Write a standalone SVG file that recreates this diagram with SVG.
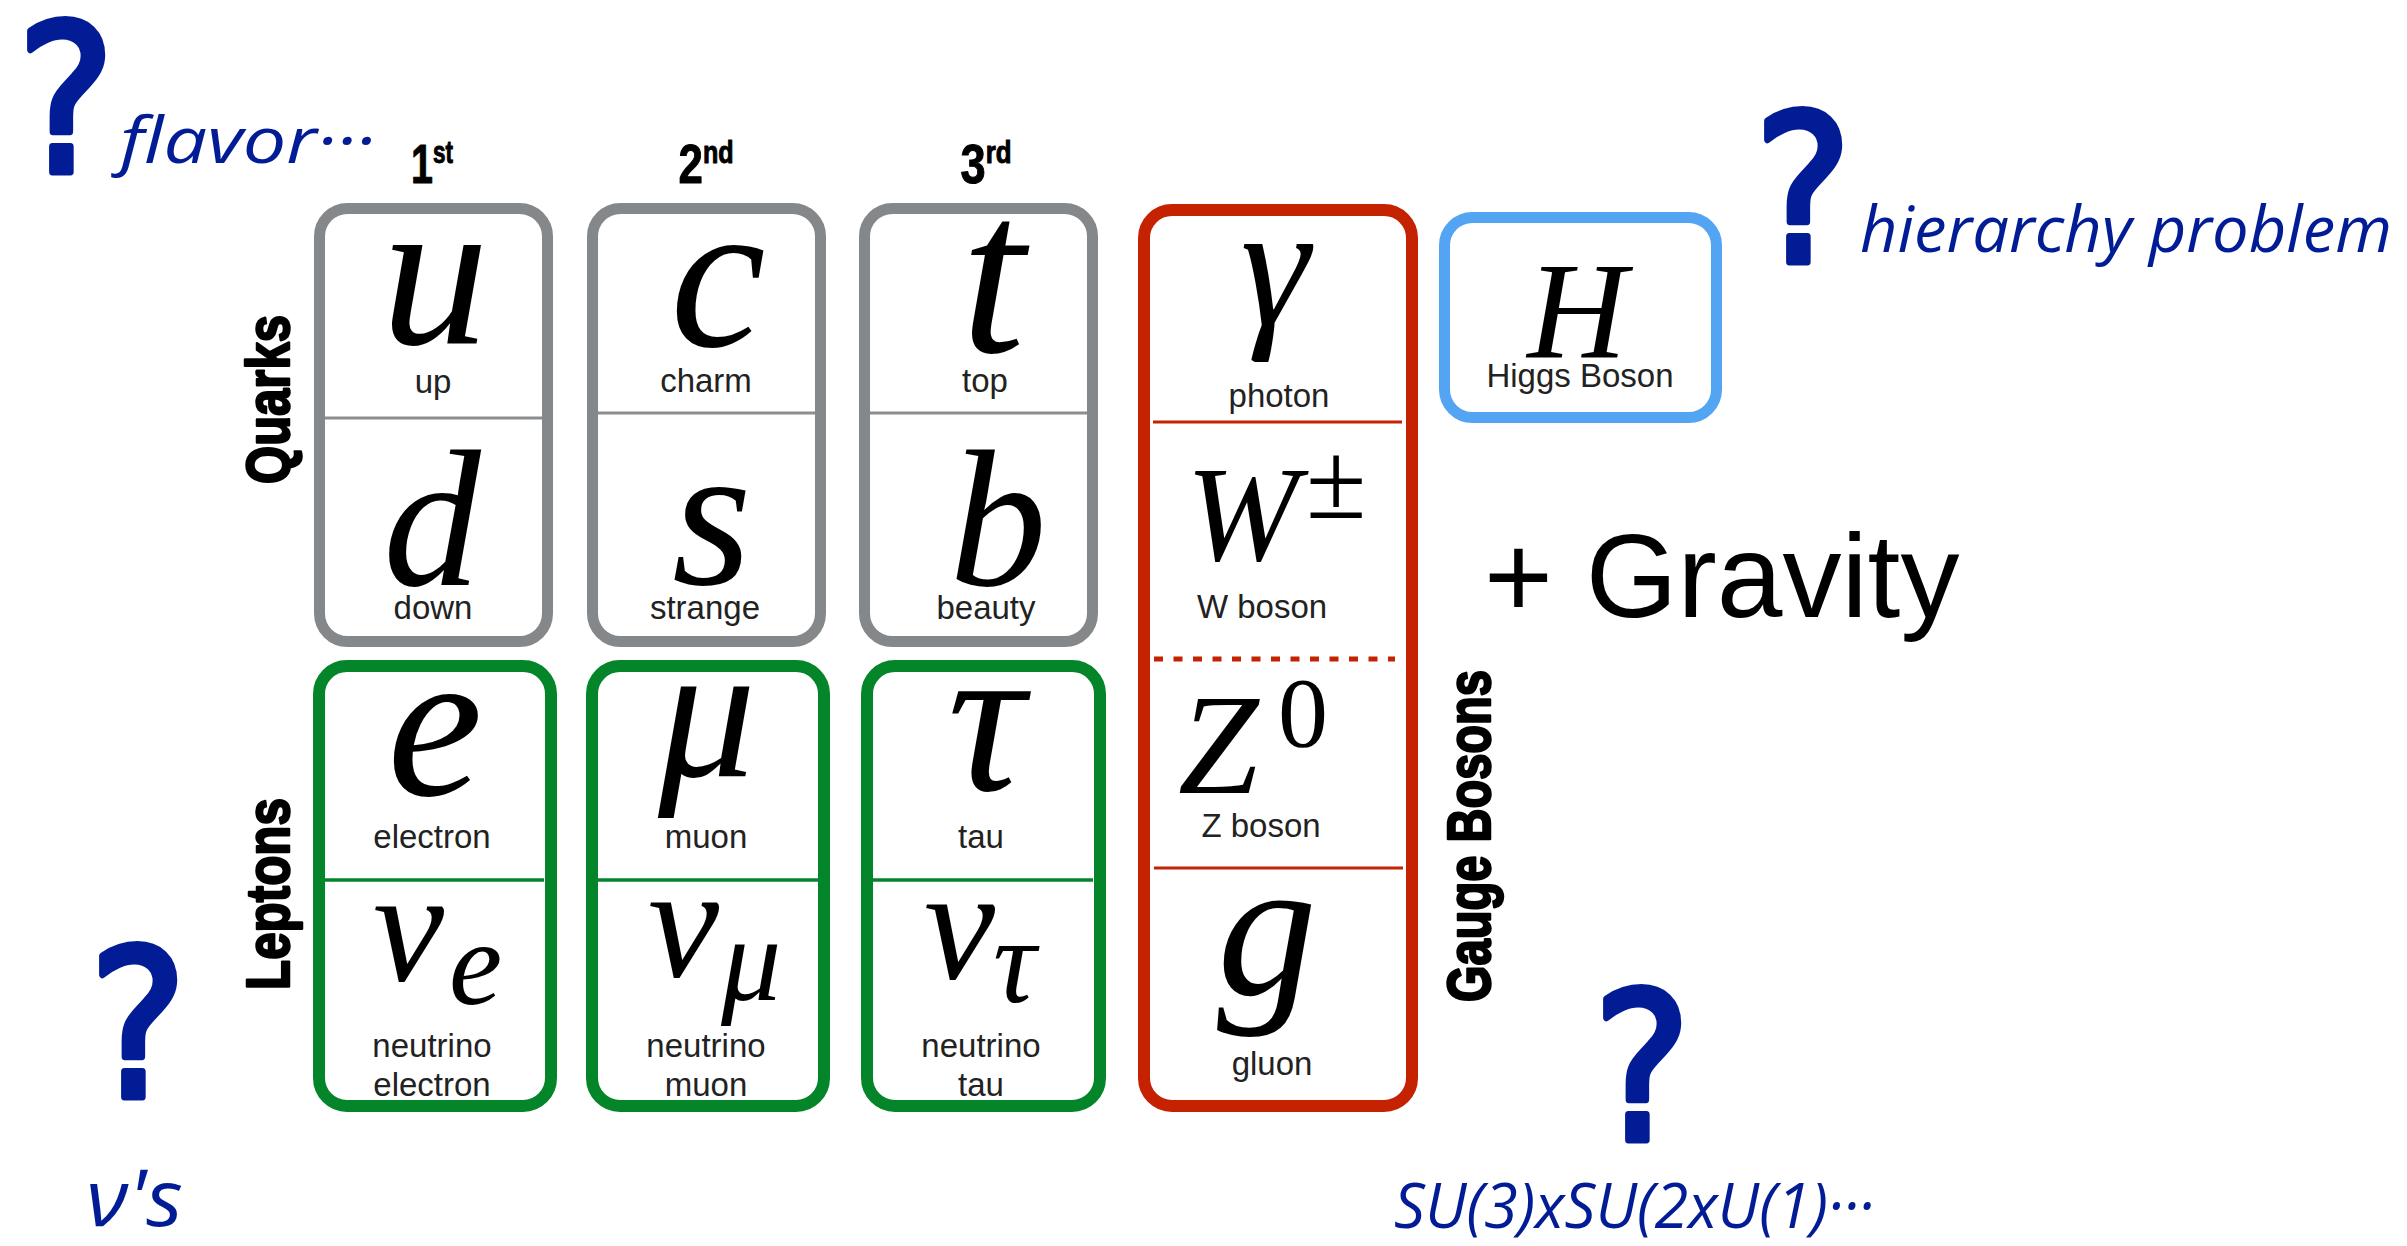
<svg xmlns="http://www.w3.org/2000/svg" width="2407" height="1246" viewBox="0 0 2407 1246">
<style>
.gray{fill:none;stroke:#84888b;stroke-width:11}
.gdiv{stroke:#8a8e91;stroke-width:3}
.green{fill:none;stroke:#05852a;stroke-width:12}
.grdiv{stroke:#05852a;stroke-width:3.5}
.red{fill:none;stroke:#c42200;stroke-width:12}
.rdiv{stroke:#c42200;stroke-width:3}
.blue{fill:none;stroke:#54a4f4;stroke-width:11}
.sym{font-family:"Liberation Serif",serif;font-style:italic;fill:#000}
.rom{font-family:"Liberation Serif",serif;fill:#000}
.lbl{font-family:"Liberation Sans",sans-serif;font-size:33px;fill:#222;text-anchor:middle}
.cat{font-family:"Liberation Sans Narrow","Liberation Sans",sans-serif;font-weight:bold;fill:#000;stroke:#000;stroke-width:2.5;stroke-linejoin:round}
.gen{font-family:"Liberation Sans Narrow","Liberation Sans",sans-serif;font-weight:bold;fill:#000;stroke:#000;stroke-width:1;stroke-linejoin:round;text-anchor:middle}
.hand{font-family:"Open Sans",sans-serif;font-style:italic;fill:#021c96}
.q{font-family:"DejaVu Sans",sans-serif;fill:#021c96;stroke:#021c96;stroke-width:7;stroke-linejoin:round;text-anchor:middle;font-size:205px}
</style>
<rect width="2407" height="1246" fill="#fff"/>

<g id="generation-labels" class="gen">
<text x="432" y="183" font-size="56" textLength="42" lengthAdjust="spacingAndGlyphs">1<tspan font-size="32" dy="-20">st</tspan></text>
<text x="706" y="183" font-size="56" textLength="55" lengthAdjust="spacingAndGlyphs">2<tspan font-size="32" dy="-20">nd</tspan></text>
<text x="986" y="183" font-size="56" textLength="51" lengthAdjust="spacingAndGlyphs">3<tspan font-size="32" dy="-20">rd</tspan></text>
</g>

<g id="category-labels" class="cat">
<text transform="translate(289,484) rotate(-90)" font-size="62" textLength="169" lengthAdjust="spacingAndGlyphs">Quarks</text>
<text transform="translate(289,990) rotate(-90)" font-size="62" textLength="192" lengthAdjust="spacingAndGlyphs">Leptons</text>
<text transform="translate(1490,1002) rotate(-90)" font-size="62" textLength="332" lengthAdjust="spacingAndGlyphs">Gauge Bosons</text>
</g>

<g id="box-up-down">
<rect class="gray" x="319.5" y="208.5" width="228" height="433" rx="28"/>
<line class="gdiv" x1="325" y1="418" x2="542" y2="418"/>
<text class="sym" x="435" y="343" font-size="215" text-anchor="middle">u</text>
<text class="lbl" x="433" y="393">up</text>
<text class="sym" x="432" y="585" font-size="195" text-anchor="middle">d</text>
<text class="lbl" x="433" y="619">down</text>
</g>

<g id="box-charm-strange">
<rect class="gray" x="592.5" y="208.5" width="228" height="433" rx="28"/>
<line class="gdiv" x1="598" y1="413" x2="815" y2="413"/>
<text class="sym" x="718" y="346" font-size="215" text-anchor="middle">c</text>
<text class="lbl" x="706" y="392">charm</text>
<text class="sym" x="712" y="584" font-size="205" text-anchor="middle">s</text>
<text class="lbl" x="705" y="619">strange</text>
</g>

<g id="box-top-beauty">
<rect class="gray" x="864.5" y="208.5" width="228" height="433" rx="28"/>
<line class="gdiv" x1="870" y1="413" x2="1087" y2="413"/>
<text class="sym" x="993" y="352" font-size="230" text-anchor="middle">t</text>
<text class="lbl" x="985" y="392">top</text>
<text class="sym" x="998" y="585" font-size="195" text-anchor="middle">b</text>
<text class="lbl" x="986" y="619">beauty</text>
</g>

<g id="box-electron">
<rect class="green" x="319" y="666" width="232" height="440" rx="28"/>
<line class="grdiv" x1="322" y1="880" x2="544" y2="880"/>
<text class="sym" x="435" y="795" font-size="215" text-anchor="middle">e</text>
<text class="lbl" x="432" y="848">electron</text>
<text class="sym" x="373" y="980" font-size="160">ν</text>
<text class="sym" x="449" y="1004" font-size="120">e</text>
<text class="lbl" x="432" y="1057">neutrino</text>
<text class="lbl" x="432" y="1096">electron</text>
</g>

<g id="box-muon">
<rect class="green" x="592" y="666" width="232" height="440" rx="28"/>
<line class="grdiv" x1="596" y1="880" x2="818" y2="880"/>
<text class="sym" x="707" y="776" font-size="195" text-anchor="middle">μ</text>
<text class="lbl" x="706" y="848">muon</text>
<text class="sym" x="648" y="976" font-size="160">ν</text>
<text class="sym" x="721" y="1000" font-size="120">μ</text>
<text class="lbl" x="706" y="1057">neutrino</text>
<text class="lbl" x="706" y="1096">muon</text>
</g>

<g id="box-tau">
<rect class="green" x="867" y="666" width="233" height="440" rx="28"/>
<line class="grdiv" x1="871" y1="880" x2="1093" y2="880"/>
<text class="sym" x="986" y="790" font-size="215" text-anchor="middle">τ</text>
<text class="lbl" x="981" y="848">tau</text>
<text class="sym" x="924" y="978" font-size="160">ν</text>
<text class="sym" x="993" y="1002" font-size="120">τ</text>
<text class="lbl" x="981" y="1057">neutrino</text>
<text class="lbl" x="981" y="1096">tau</text>
</g>

<g id="box-gauge-bosons">
<rect class="red" x="1144" y="210" width="268" height="896" rx="28"/>
<line class="rdiv" x1="1153" y1="422" x2="1402" y2="422"/>
<line x1="1154" y1="659" x2="1395" y2="659" stroke="#c42200" stroke-width="5" stroke-dasharray="9 10.5"/>
<line class="rdiv" x1="1154" y1="868" x2="1403" y2="868"/>
<text class="sym" x="1275" y="325" font-size="175" text-anchor="middle">γ</text>
<text class="lbl" x="1279" y="407">photon</text>
<text class="sym" x="1186" y="560" font-size="135">W</text>
<text class="rom" x="1306" y="518" font-size="110">±</text>
<text class="lbl" x="1262" y="618">W boson</text>
<text class="sym" x="1178" y="793" font-size="145">Z</text>
<text class="rom" x="1278" y="746" font-size="100">0</text>
<text class="lbl" x="1261" y="837">Z boson</text>
<text class="sym" x="1267" y="995" font-size="200" text-anchor="middle">g</text>
<text class="lbl" x="1272" y="1075">gluon</text>
</g>

<g id="box-higgs">
<rect class="blue" x="1444.5" y="217.5" width="272" height="200" rx="28"/>
<text class="sym" x="1577" y="357" font-size="138" text-anchor="middle">H</text>
<text class="lbl" x="1580" y="387">Higgs Boson</text>
</g>

<g id="gravity">
<text x="1484" y="617" font-family="Liberation Sans, sans-serif" font-size="118" fill="#000">+ Gravity</text>
</g>

<g id="annotations">
<text class="q" transform="translate(66,172) scale(0.9,1)">?</text>
<text class="hand" x="120" y="163" font-size="64" textLength="255" lengthAdjust="spacingAndGlyphs">flavor···</text>
<text class="q" transform="translate(1803,262) scale(0.9,1)">?</text>
<text class="hand" x="1860" y="252" font-size="64" textLength="532" lengthAdjust="spacingAndGlyphs">hierarchy problem</text>
<text class="q" transform="translate(138,1097) scale(0.9,1)">?</text>
<text class="hand" x="86" y="1226" font-size="78" textLength="97" lengthAdjust="spacingAndGlyphs">ν's</text>
<text class="q" transform="translate(1642,1140) scale(0.9,1)">?</text>
<text class="hand" x="1394" y="1228" font-size="62" textLength="480" lengthAdjust="spacingAndGlyphs">SU(3)xSU(2xU(1)···</text>
</g>

<g id="connectors"/>
</svg>
